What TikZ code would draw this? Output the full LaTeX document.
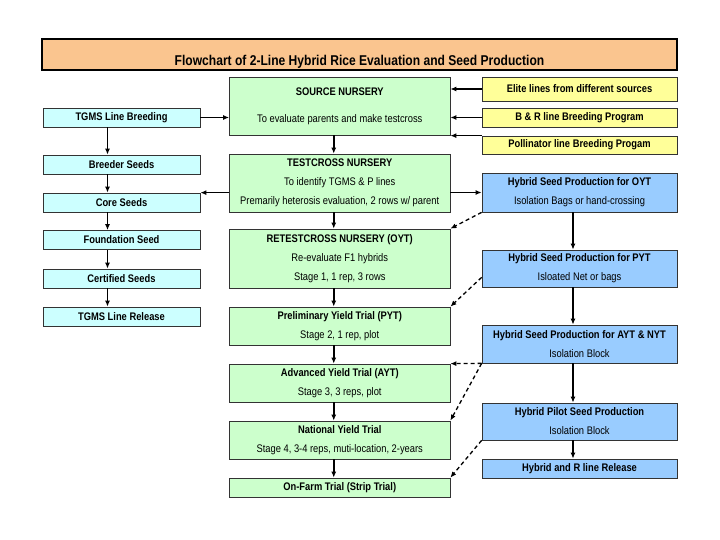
\documentclass[tikz,border=0pt]{standalone}
\usepackage{fontspec}
\setmainfont{Liberation Sans}
\newfontfamily\boxfont[FakeStretch=0.85]{Liberation Sans}
\usetikzlibrary{arrows.meta}
\definecolor{titlepeach}{HTML}{FAC58F}
\definecolor{nurserygreen}{HTML}{CCFFCC}
\definecolor{seedcyan}{HTML}{CCFFFF}
\definecolor{sourceyellow}{HTML}{FFFF99}
\definecolor{hybridblue}{HTML}{99CCFF}
\tikzset{
  box/.style={draw=black!80, line width=0.7pt, inner sep=0pt, align=center,
    font=\boxfont\fontsize{11}{19}\selectfont},
  seedbox/.style={box, fill=seedcyan, minimum width=157pt, minimum height=19pt},
  trialbox/.style={box, fill=nurserygreen, minimum width=220.5pt},
  linebox/.style={box, fill=sourceyellow, minimum width=195pt},
  hybridbox/.style={box, fill=hybridblue, minimum width=195pt},
  arr/.style={-{Latex[length=6pt,width=5pt]}, line width=1.6pt},
  darr/.style={arr, line width=1.3pt, dash pattern=on 4pt off 3pt}
}
\begin{document}
\begin{tikzpicture}[x=1pt, y=-1pt]
  \useasboundingbox (0,0) rectangle (720,540);
  \node (title) [draw, line width=1.4pt, fill=titlepeach, minimum width=635pt, minimum height=31pt,
    font=\boxfont\fontsize{14.2}{16}\selectfont\bfseries, text height=22pt, text depth=0pt]
    at (359.5,54.5) {Flowchart of 2-Line Hybrid Rice Evaluation and Seed Production};

  \node (tgms)    [seedbox] at (121.5,117.5) {\bfseries TGMS Line Breeding};
  \node (breeder) [seedbox] at (121.5,164.5) {\bfseries Breeder Seeds};
  \node (core)    [seedbox] at (121.5,202.5) {\bfseries Core Seeds};
  \node (found)   [seedbox] at (121.5,240)   {\bfseries Foundation Seed};
  \node (cert)    [seedbox] at (121.5,278.5) {\bfseries Certified Seeds};
  \node (release) [seedbox] at (121.5,316.5) {\bfseries TGMS Line Release};

  \node (source) [trialbox, minimum height=58pt] at (339.75,106)
    {\textbf{SOURCE NURSERY}\\[8pt] To evaluate parents and make testcross};
  \node (test)   [trialbox, minimum height=58pt] at (339.75,183)
    {\textbf{TESTCROSS NURSERY}\\ To identify TGMS \& P lines\\ Premarily heterosis evaluation, 2 rows w/ parent};
  \node (retest) [trialbox, minimum height=59pt] at (339.75,258.5)
    {\textbf{RETESTCROSS NURSERY (OYT)}\\ Re-evaluate F1 hybrids\\ Stage 1, 1 rep, 3 rows};
  \node (pyt)    [trialbox, minimum height=38pt] at (339.75,326)
    {\textbf{Preliminary Yield Trial (PYT)}\\ Stage 2, 1 rep, plot};
  \node (ayt)    [trialbox, minimum height=38pt] at (339.75,383)
    {\textbf{Advanced Yield Trial (AYT)}\\ Stage 3, 3 reps, plot};
  \node (nyt)    [trialbox, minimum height=38pt] at (339.75,440)
    {\textbf{National Yield Trial}\\ Stage 4, 3-4 reps, muti-location, 2-years};
  \node (farm)   [trialbox, minimum height=19pt] at (339.75,487.5)
    {\bfseries On-Farm Trial (Strip Trial)};

  \node (elite)  [linebox, minimum height=24pt] at (579.5,89)    {\bfseries Elite lines from different sources};
  \node (bandr)  [linebox, minimum height=19pt] at (579.5,117.5) {\bfseries B \& R line Breeding Program};
  \node (poll)   [linebox, minimum height=18pt] at (579.5,145)   {\bfseries Pollinator line Breeding Progam};

  \node (hoyt)   [hybridbox, minimum height=39pt] at (579.5,192.5)
    {\textbf{Hybrid Seed Production for OYT}\\ Isolation Bags or hand-crossing};
  \node (hpyt)   [hybridbox, minimum height=37pt] at (579.5,268.5)
    {\textbf{Hybrid Seed Production for PYT}\\ Isloated Net or bags};
  \node (hayt)   [hybridbox, minimum height=38pt] at (579.5,344)
    {\textbf{Hybrid Seed Production for AYT \& NYT}\\ Isolation Block};
  \node (hpilot) [hybridbox, minimum height=37pt] at (579.5,421.5)
    {\textbf{Hybrid Pilot Seed Production}\\ Isolation Block};
  \node (hrel)   [hybridbox, minimum height=19pt] at (579.5,468.5) {\bfseries Hybrid and R line Release};

  \foreach \a/\b in {tgms/breeder, breeder/core, core/found, found/cert, cert/release}
    \draw[arr] ([xshift=-14pt]\a.south) -- ([xshift=-14pt]\b.north);
  \foreach \a/\b in {source/test, test/retest, retest/pyt, pyt/ayt, ayt/nyt, nyt/farm}
    \draw[arr] ([xshift=-6pt]\a.south) -- ([xshift=-6pt]\b.north);
  \foreach \a/\b in {hoyt/hpyt, hpyt/hayt, hayt/hpilot, hpilot/hrel}
    \draw[arr] ([xshift=-6.5pt]\a.south) -- ([xshift=-6.5pt]\b.north);

  \draw[arr] (tgms.east) -- (tgms.east -| source.west);
  \draw[arr] (elite.west) -- (elite.west -| source.east);
  \draw[arr] (bandr.west) -- (bandr.west -| source.east);
  \draw[arr] (poll.north west) -- (poll.north west -| source.east);
  \draw[arr] (core.north east -| test.west) -- (core.north east);
  \draw[arr] (hoyt.west -| test.east) -- (hoyt.west);

  \draw[darr] (hoyt.south west) -- (retest.north east);
  \draw[darr] ([yshift=10pt]hpyt.south west) -- (pyt.north east);
  \draw[darr] (hayt.south west) -- (ayt.north east);
  \draw[darr] (hayt.south west) -- (nyt.north east);
  \draw[darr] (hpilot.south west) -- (farm.north east);
\end{tikzpicture}
\end{document}
